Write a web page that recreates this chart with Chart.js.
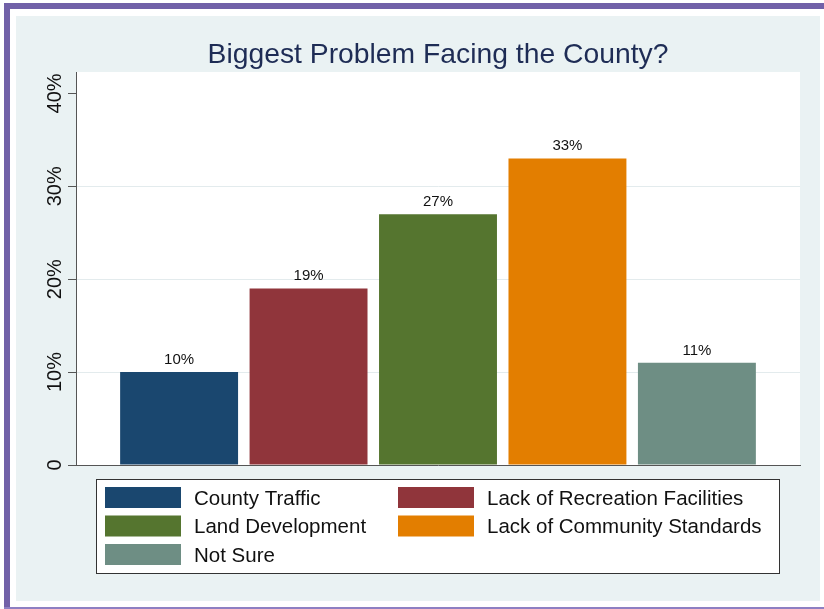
<!DOCTYPE html>
<html>
<head>
<meta charset="utf-8">
<script src="https://cdn.jsdelivr.net/npm/chart.js@4/dist/chart.umd.min.js"></script>
<style>
  html, body { margin: 0; padding: 0; background: #ffffff; }
  canvas { display: block; }
</style>
</head>
<body>
<canvas id="problemChart" width="824" height="609"></canvas>
<script>
// values
const categories = ["County Traffic", "Lack of Recreation Facilities", "Land Development", "Lack of Community Standards", "Not Sure"];
const shares = [10, 19, 27, 33, 11];
const barColors = ["#1a476f", "#90353b", "#55752f", "#e37e00", "#6e8e84"];
const yTicks = [0, 10, 20, 30, 40];
const yMax = 42.3;
const titleText = "Biggest Problem Facing the County?";

const FONT = '"Liberation Sans", Arial, Helvetica, sans-serif';

// page frame, grey-blue graph region and white plot region
const framePlugin = {
    id: "frame",
    beforeDraw(chart) {
        const ctx = chart.ctx;
        const a = chart.chartArea;
        ctx.save();
        ctx.fillStyle = "#ffffff";
        ctx.fillRect(0, 0, chart.width, chart.height);
        ctx.fillStyle = "#7161a8";
        ctx.fillRect(4, 3, 6, chart.height - 3);
        ctx.fillRect(4, 3, chart.width - 4, 6);
        ctx.fillStyle = "#8e7fc2";
        ctx.fillRect(4, 607, chart.width - 4, 2);
        ctx.fillStyle = "#eaf2f3";
        ctx.fillRect(16, 16, 804, 585);
        ctx.fillStyle = "#ffffff";
        ctx.fillRect(a.left, a.top, a.right - a.left, a.bottom - a.top);
        ctx.restore();
    }
};

// title, rotated y labels, value labels and the boxed legend
const textPlugin = {
    id: "texts",
    afterDraw(chart) {
        const ctx = chart.ctx;
        const a = chart.chartArea;
        const yScale = chart.scales.y;
        ctx.save();

        // title
        ctx.fillStyle = "#1e2c55";
        ctx.font = "28.3px " + FONT;
        ctx.textAlign = "center";
        ctx.textBaseline = "alphabetic";
        ctx.fillText(titleText, (a.left + a.right) / 2, 63);

        // y tick labels, read bottom to top
        ctx.fillStyle = "#111111";
        ctx.font = "20px " + FONT;
        yTicks.forEach(v => {
            const y = yScale.getPixelForValue(v);
            ctx.save();
            ctx.translate(61, y);
            ctx.rotate(-Math.PI / 2);
            ctx.textAlign = "center";
            ctx.textBaseline = "alphabetic";
            ctx.fillText(v === 0 ? "0" : v + "%", 0, 0);
            ctx.restore();
        });

        // value labels above bars
        ctx.font = "15px " + FONT;
        ctx.textAlign = "center";
        ctx.textBaseline = "alphabetic";
        chart.data.datasets.forEach((ds, i) => {
            const bar = chart.getDatasetMeta(i).data[0];
            ctx.fillText(ds.data[0] + "%", bar.x, bar.y - 8);
        });

        // legend box
        ctx.fillStyle = "#ffffff";
        ctx.fillRect(96, 479, 683, 94);
        ctx.strokeStyle = "#333333";
        ctx.lineWidth = 1;
        ctx.strokeRect(96.5, 479.5, 683, 94);

        const colX = [105, 398];
        const rowTop = [487, 515.5, 544];
        ctx.font = "20.5px " + FONT;
        ctx.textAlign = "left";
        ctx.textBaseline = "middle";
        chart.data.datasets.forEach((ds, i) => {
            const x = colX[i % 2];
            const y = rowTop[Math.floor(i / 2)];
            ctx.fillStyle = ds.backgroundColor;
            ctx.fillRect(x, y, 76, 21);
            ctx.fillStyle = "#111111";
            ctx.fillText(ds.label, x + 89, y + 12);
        });

        ctx.restore();
    }
};

const ctx = document.getElementById("problemChart").getContext("2d");
new Chart(ctx, {
    type: "bar",
    data: {
        labels: [""],
        datasets: categories.map((name, i) => ({
            label: name,
            data: [shares[i]],
            backgroundColor: barColors[i],
            borderWidth: 0
        }))
    },
    options: {
        responsive: false,
        animation: false,
        devicePixelRatio: 1,
        categoryPercentage: 0.894,
        barPercentage: 0.911,
        layout: { padding: { left: 0, top: 72, right: 24, bottom: 144 } },
        plugins: {
            legend: { display: false },
            title: { display: false },
            tooltip: { enabled: false }
        },
        scales: {
            x: {
                grid: { display: true, color: "rgba(0,0,0,0)", drawTicks: false },
                ticks: { display: false },
                border: { display: true, color: "#555555", width: 1 },
                afterFit: s => { s.height = 0; }
            },
            y: {
                min: 0,
                max: yMax,
                afterBuildTicks: s => { s.ticks = yTicks.map(v => ({ value: v })); },
                ticks: { display: false },
                grid: {
                    color: c => (c.tick && c.tick.value > 0 && c.tick.value < 40) ? "#e3ebed" : "rgba(0,0,0,0)",
                    tickColor: "#555555",
                    tickLength: 8,
                    drawTicks: true
                },
                border: { display: true, color: "#555555", width: 1 },
                afterFit: s => { s.width = 76; }
            }
        }
    },
    plugins: [framePlugin, textPlugin]
});
</script>
</body>
</html>
